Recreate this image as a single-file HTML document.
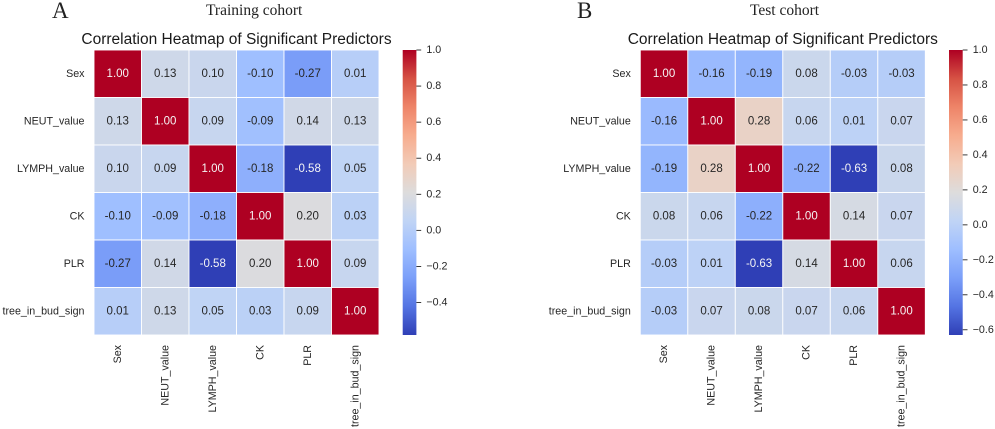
<!DOCTYPE html>
<html lang="en">
<head>
<meta charset="utf-8">
<title>Correlation Heatmaps of Significant Predictors</title>
<style>
html,body{margin:0;padding:0;background:#fff;width:995px;height:429px;overflow:hidden}
svg{display:block;font-family:"Liberation Sans",Arial,sans-serif}
.serif{font-family:"Liberation Serif",serif;fill:#222}
.title{font-size:15.5px;fill:#1a1a1a;text-anchor:middle}
.tick{font-size:10.7px;fill:#262626}
.ann{font-size:11.5px;text-anchor:middle;dominant-baseline:central}
.cb{font-size:10.7px;fill:#262626;dominant-baseline:central}
</style>
</head>
<body>
<svg id="figure" xmlns="http://www.w3.org/2000/svg" width="995" height="429" viewBox="0 0 995 429">
  <defs>
    <linearGradient id="coolwarm-gradient" x1="0" y1="1" x2="0" y2="0"></linearGradient>
  </defs>
  <rect width="995" height="429" fill="#fff"></rect>
  <text class="serif" x="52" y="18" font-size="23">A</text>
  <text class="serif" x="206" y="15" font-size="15.5">Training cohort</text>
  <text class="serif" x="577" y="18" font-size="23">B</text>
  <text class="serif" x="750" y="15" font-size="15.5">Test cohort</text>
</svg>
<script>
const predictors = ["Sex", "NEUT_value", "LYMPH_value", "CK", "PLR", "tree_in_bud_sign"];

const trainingValues = [
  [1.00, 0.13, 0.10, -0.10, -0.27, 0.01],
  [0.13, 1.00, 0.09, -0.09, 0.14, 0.13],
  [0.10, 0.09, 1.00, -0.18, -0.58, 0.05],
  [-0.10, -0.09, -0.18, 1.00, 0.20, 0.03],
  [-0.27, 0.14, -0.58, 0.20, 1.00, 0.09],
  [0.01, 0.13, 0.05, 0.03, 0.09, 1.00]
];

const testValues = [
  [1.00, -0.16, -0.19, 0.08, -0.03, -0.03],
  [-0.16, 1.00, 0.28, 0.06, 0.01, 0.07],
  [-0.19, 0.28, 1.00, -0.22, -0.63, 0.08],
  [0.08, 0.06, -0.22, 1.00, 0.14, 0.07],
  [-0.03, 0.01, -0.63, 0.14, 1.00, 0.06],
  [-0.03, 0.07, 0.08, 0.07, 0.06, 1.00]
];

const trainingColorbarTicks = [-0.4, -0.2, 0.0, 0.2, 0.4, 0.6, 0.8, 1.0];
const testColorbarTicks = [-0.6, -0.4, -0.2, 0.0, 0.2, 0.4, 0.6, 0.8, 1.0];
const chartTitle = "Correlation Heatmap of Significant Predictors";
const coolwarmStops = ["#2f3fb6", "#5474e3", "#7b9ff9", "#9ebeff", "#c0d4f5", "#dddcdc", "#f2cbb7", "#f7ac8e", "#ee8468", "#d65244", "#ae0022"];

const SVG_NS = "http://www.w3.org/2000/svg";
const figure = document.getElementById("figure");

function hexToRgb(hex) {
  return [1, 3, 5].map(function (i) { return parseInt(hex.slice(i, i + 2), 16); });
}

function coolwarm(t) {
  const clamped = Math.max(0, Math.min(1, t));
  const pos = clamped * (coolwarmStops.length - 1);
  const low = Math.min(Math.floor(pos), coolwarmStops.length - 2);
  const frac = pos - low;
  const a = hexToRgb(coolwarmStops[low]);
  const b = hexToRgb(coolwarmStops[low + 1]);
  const mix = a.map(function (v, i) { return Math.round(v + (b[i] - v) * frac); });
  return "rgb(" + mix.join(",") + ")";
}

function make(tag, attrs, parent, text) {
  const el = document.createElementNS(SVG_NS, tag);
  Object.keys(attrs).forEach(function (k) { el.setAttribute(k, attrs[k]); });
  if (text !== undefined) { el.textContent = text; }
  parent.appendChild(el);
  return el;
}

const gradient = document.getElementById("coolwarm-gradient");
coolwarmStops.forEach(function (color, i) {
  make("stop", { offset: (i / (coolwarmStops.length - 1)), "stop-color": color }, gradient);
});

function slug(label) {
  return label.toLowerCase().replace(/_/g, "-");
}

function drawPanel(prefix, values, cbTicks, left, cbLeft) {
  const top = 50;
  const size = 285;
  const n = predictors.length;
  const cell = size / n;
  const flat = values.reduce(function (acc, row) { return acc.concat(row); }, []);
  const vmin = Math.min.apply(null, flat);
  const vmax = Math.max.apply(null, flat);
  const norm = function (v) { return (v - vmin) / (vmax - vmin); };
  const xScale = function (i) { return left + i * cell; };
  const yScale = function (i) { return top + i * cell; };
  const cbY = function (v) { return top + (vmax - v) / (vmax - vmin) * size; };

  const group = make("g", {}, figure);
  
  

  const title = make("text", { class: "title", x: left + size / 2, y: 44 }, group, chartTitle);
  
  

  values.forEach(function (row, r) {
    row.forEach(function (v, c) {
      const rect = make("rect", {
        x: xScale(c), y: yScale(r), width: cell, height: cell,
        fill: coolwarm(norm(v)), stroke: "#fff", "stroke-width": 0.9
      }, group);
      
      

      const t = norm(v);
      const label = make("text", {
        class: "ann", x: xScale(c) + cell / 2, y: yScale(r) + cell / 2,
        fill: (t > 0.85 || t < 0.12) ? "#f5f5f5" : "#262626"
      }, group, v.toFixed(2));
      
      
    });
  });

  predictors.forEach(function (name, i) {
    const yLabel = make("text", {
      class: "tick", x: left - 9.5, y: yScale(i) + cell / 2, "text-anchor": "end", "dominant-baseline": "central"
    }, group, name);
    
    

    const xPos = xScale(i) + cell / 2;
    const xLabel = make("text", {
      class: "tick", x: xPos, y: 345, "text-anchor": "end", "dominant-baseline": "central",
      transform: "rotate(-90 " + xPos + " 345)"
    }, group, name);
    
    
  });

  const bar = make("rect", { x: cbLeft, y: top, width: 13.7, height: size, fill: "url(#coolwarm-gradient)" }, group);
  
  

  cbTicks.forEach(function (v) {
    const y = cbY(v);
    const mark = make("line", { x1: cbLeft + 13.7, x2: cbLeft + 18.5, y1: y, y2: y, stroke: "#262626", "stroke-width": 0.9 }, group);
    
    

    const label = make("text", { class: "cb", x: cbLeft + 23.7, y: y }, group, v.toFixed(1).replace("-", "\u2212"));
    
    
  });
}

drawPanel("training", trainingValues, trainingColorbarTicks, 94, 402.7);
drawPanel("test", testValues, testColorbarTicks, 640.3, 949);
</script>
</body>
</html>
